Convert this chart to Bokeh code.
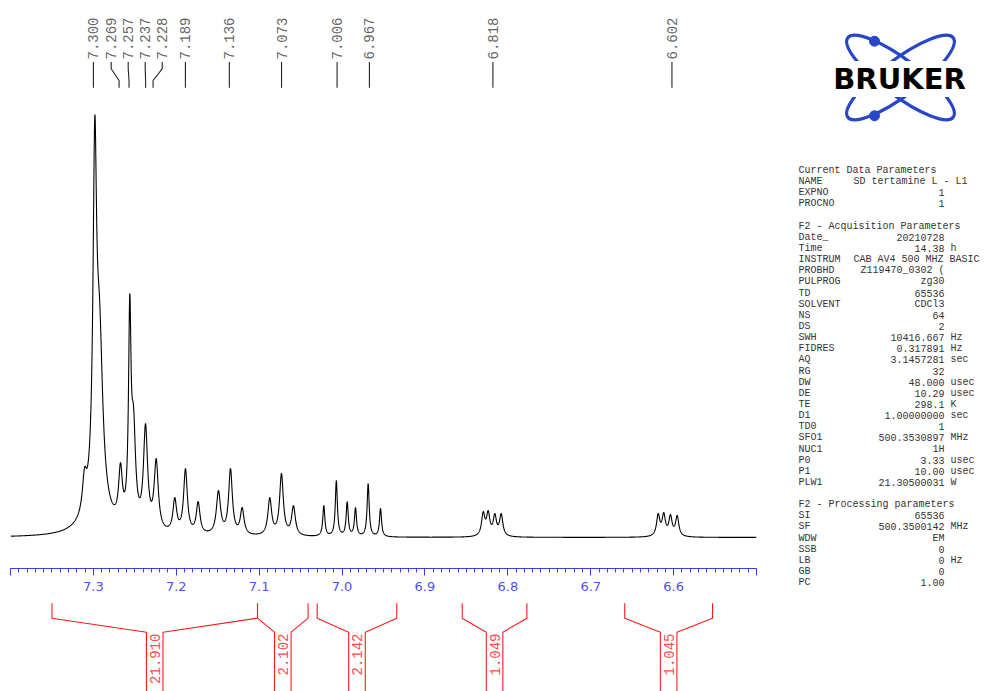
import numpy as np
from bokeh.plotting import figure
from bokeh.models import Range1d, FixedTicker, Label, PrintfTickFormatter
from bokeh.layouts import row, column
from bokeh.embed import file_html
from bokeh.resources import INLINE
from bokeh.core.properties import value

# ---------------- data ----------------
# resolved lines (ppm, apex height above baseline in arbitrary units, half width at half height in ppm)
peak_ppm = [7.3107, 7.2983, 7.2926, 7.2673, 7.2561, 7.2516, 7.2371, 7.2242,
            7.2018, 7.1889, 7.1736, 7.1491, 7.1346, 7.1205, 7.0872, 7.0731,
            7.0586, 7.0220, 7.0069, 6.9938, 6.9838, 6.9685, 6.9536,
            6.8297, 6.8237, 6.8157, 6.8080,
            6.6186, 6.6119, 6.6038, 6.5957]
peak_height = [70, 422, 240, 75, 244, 132, 114, 79,
               40, 69, 36, 47, 69, 30, 40, 64,
               32, 32, 57, 36, 30, 54, 29,
               26, 27, 24, 24,
               24, 25, 23, 22]
peak_hwhm = [0.0030, 0.0026, 0.0048, 0.0027, 0.0018, 0.0030, 0.0030, 0.0030,
             0.0027, 0.0027, 0.0027, 0.0030, 0.0027, 0.0027, 0.0027, 0.0027,
             0.0027, 0.0015, 0.0015, 0.0015, 0.0015, 0.0015, 0.0015,
             0.0024, 0.0024, 0.0024, 0.0024,
             0.0024, 0.0024, 0.0024, 0.0024]
# broad underlying component
broad_ppm = [7.297]
broad_height = [18]
broad_hwhm = [0.018]

# picked peak labels
peak_labels = ["7.300", "7.269", "7.257", "7.237", "7.228", "7.189", "7.136",
               "7.073", "7.006", "6.967", "6.818", "6.602"]

# integrals
int_start = [7.350, 7.102, 7.030, 6.855, 6.659]
int_end = [7.102, 7.041, 6.934, 6.777, 6.553]
int_value = [21.910, 2.102, 2.142, 1.049, 1.045]

# axis
major_ticks = [7.4, 7.3, 7.2, 7.1, 7.0, 6.9, 6.8, 6.7, 6.6, 6.5]
ppm_min, ppm_max = 6.5, 7.4

# parameter block
sec_titles = ["Current Data Parameters", "F2 - Acquisition Parameters", "F2 - Processing parameters"]
sec_names = [["NAME", "EXPNO", "PROCNO"],
             ["Date_", "Time", "INSTRUM", "PROBHD", "PULPROG", "TD", "SOLVENT", "NS", "DS",
              "SWH", "FIDRES", "AQ", "RG", "DW", "DE", "TE", "D1", "TD0", "SFO1", "NUC1",
              "P0", "P1", "PLW1"],
             ["SI", "SF", "WDW", "SSB", "LB", "GB", "PC"]]
sec_values = [["SD tertamine L - L1", "1", "1"],
              ["20210728", "14.38", "CAB AV4 500 MHZ BASIC", "Z119470_0302 (", "zg30", "65536",
               "CDCl3", "64", "2", "10416.667", "0.317891", "3.1457281", "32", "48.000", "10.29",
               "298.1", "1.00000000", "1", "500.3530897", "1H", "3.33", "10.00", "21.30500031"],
              ["65536", "500.3500142", "EM", "0", "0", "0", "1.00"]]
sec_units = [["", "", ""],
             ["", "h", "", "", "", "", "", "", "", "Hz", "Hz", "sec", "", "usec", "usec", "K",
              "sec", "", "MHz", "", "usec", "usec", "W"],
             ["", "MHz", "", "", "Hz", "", ""]]

# ---------------- spectrum ----------------
def lor(x, c, w):
    return w ** 2 / ((x - c) ** 2 + w ** 2)

P = np.array(peak_ppm)
W = np.array(peak_hwhm)
H = np.array(peak_height, dtype=float)
xs = np.linspace(ppm_max, ppm_min, 5000)
base_x = sum(h * lor(xs, c, w) for c, h, w in zip(broad_ppm, broad_height, broad_hwhm))
base_p = sum(h * lor(P, c, w) for c, h, w in zip(broad_ppm, broad_height, broad_hwhm))
A = lor(P[:, None], P[None, :], W[None, :])
amp = np.clip(np.linalg.solve(A, H - base_p), 0, None)
ys = base_x + (amp[None, :] * lor(xs[:, None], P[None, :], W[None, :])).sum(axis=1)

BASE = 537.0  # baseline row on page
def Y(yi):
    return BASE - yi

FONT_MONO = value("Liberation Mono")
BLUE = "#3a3af0"

top = figure(width=785, height=598, x_range=Range1d(ppm_max, ppm_min),
             y_range=Range1d(Y(568), Y(0)), toolbar_location=None, output_backend="svg",
             min_border_left=10, min_border_right=29, min_border_top=0, min_border_bottom=30,
             y_axis_location=None)
top.grid.visible = False
top.outline_line_color = None
top.line(xs, ys, line_color="black", line_width=1.1)

ax = top.xaxis[0]
minor = [round(v, 2) for v in np.arange(ppm_min, ppm_max + 0.0001, 0.01)]
ax.ticker = FixedTicker(ticks=major_ticks, minor_ticks=minor)
ax.formatter = PrintfTickFormatter(format="%.1f")
ax.major_label_overrides = {7.4: "", 6.5: ""}
ax.axis_line_color = BLUE
ax.major_tick_line_color = BLUE
ax.minor_tick_line_color = BLUE
ax.major_tick_in = 0
ax.major_tick_out = 7
ax.minor_tick_in = 0
ax.minor_tick_out = 4
ax.major_label_text_color = "#5050f5"
ax.major_label_text_font = "DejaVu Sans"
ax.major_label_text_font_size = "13px"
ax.major_label_standoff = 6
top.add_layout(Label(x=6.517, y=Y(587), text="ppm", text_color="#5050f5",
                     text_font="DejaVu Sans", text_font_size="13px",
                     text_align="center", text_baseline="middle"))

# peak labels, spread in groups
lab_ppm = [float(s) for s in peak_labels]
sep = 17.0 / (746.0 / (ppm_max - ppm_min))
clusters = [[i] for i in range(len(lab_ppm))]
def place(cl):
    m = np.mean([lab_ppm[i] for i in cl])
    n = len(cl)
    return [m + sep * ((n - 1) / 2 - k) for k in range(n)]
changed = True
while changed:
    changed = False
    for k in range(len(clusters) - 1):
        a = place(clusters[k]); b = place(clusters[k + 1])
        if a[-1] - b[0] < sep - 1e-9:
            clusters[k] = clusters[k] + clusters[k + 1]
            del clusters[k + 1]
            changed = True
            break
lab_pos = []
for cl in clusters:
    lab_pos += place(cl)

lx, ly = [], []
for pk, lp in zip(lab_ppm, lab_pos):
    lx.append([lp, lp, pk, pk])
    ly.append([Y(61.5), Y(68.3), Y(80), Y(87.3)])
top.multi_line(lx, ly, line_color="#222222", line_width=1.1)
top.text(x=lab_pos, y=[Y(59)] * len(lab_pos), text=peak_labels, angle=np.pi / 2,
         text_align="left", text_baseline="middle", text_font=FONT_MONO,
         text_font_size="14px", text_color="#666666")

# ---------------- integrals ----------------
integ = figure(width=785, height=93, x_range=top.x_range, y_range=Range1d(-691, -598),
               toolbar_location=None, output_backend="svg",
               min_border_left=10, min_border_right=29, min_border_top=0, min_border_bottom=0,
               x_axis_location=None, y_axis_location=None)
integ.grid.visible = False
integ.outline_line_color = None
hw = 0.0100
ix, iy, tx = [], [], []
for s, e in zip(int_start, int_end):
    c = (s + e) / 2
    tx.append(c)
    ix.append([s, s, c + hw, c + hw]); iy.append([-602.7, -617.7, -631.7, -700])
    ix.append([e, e, c - hw, c - hw]); iy.append([-602.7, -617.7, -631.7, -700])
integ.multi_line(ix, iy, line_color="#ff1a1a", line_width=1.1)
integ.text(x=tx, y=[-633] * len(tx), text=["%.3f" % v for v in int_value], angle=np.pi / 2,
           text_align="right", text_baseline="middle", text_font=FONT_MONO,
           text_font_size="14px", text_color="#ff4a4a")

# ---------------- right panel: logo + parameters ----------------
rp = figure(width=206, height=691, x_range=Range1d(785, 991), y_range=Range1d(-691, 0),
            toolbar_location=None, output_backend="svg", min_border=0,
            x_axis_location=None, y_axis_location=None)
rp.grid.visible = False
rp.outline_line_color = None

LOGO_BLUE = "#2846c8"
rp.ellipse(x=[900, 900], y=[-77, -77], width=[132, 132], height=[36, 36],
           angle=[np.radians(-37), np.radians(37)], fill_color=None,
           line_color=LOGO_BLUE, line_width=3.2)
rp.scatter(x=[874, 874], y=[-40.7, -115.3], size=10, fill_color=LOGO_BLUE, line_color=LOGO_BLUE)
rp.text(x=[899], y=[-78.5], text=["BRUKER"], text_font=value("DejaVu Sans"),
        text_font_style="bold", text_font_size="29px", text_color="black",
        text_align="center", text_baseline="middle",
        background_fill_color="white", padding=1)

names_x, names_y, names_t = [], [], []
vals_r_x, vals_r_y, vals_r_t = [], [], []
vals_l_x, vals_l_y, vals_l_t = [], [], []
units_y, units_t = [], []
line = 0
for title, nm, vl, un in zip(sec_titles, sec_names, sec_values, sec_units):
    names_x.append(798); names_y.append(-(170 + line * 11.14)); names_t.append(title)
    line += 1
    for n, v, u in zip(nm, vl, un):
        yy = -(170 + line * 11.14)
        names_x.append(798); names_y.append(yy); names_t.append(n)
        if len(v) > 14:
            vals_l_x.append(853); vals_l_y.append(yy); vals_l_t.append(v)
        else:
            vals_r_x.append(944); vals_r_y.append(yy); vals_r_t.append(v)
        if u:
            units_y.append(yy); units_t.append(u)
        line += 1
    line += 1

common = dict(text_font=FONT_MONO, text_font_size="10px", text_color="#333333",
              text_baseline="middle")
rp.text(x=names_x, y=names_y, text=names_t, text_align="left", **common)
rp.text(x=vals_r_x, y=vals_r_y, text=vals_r_t, text_align="right", **common)
rp.text(x=vals_l_x, y=vals_l_y, text=vals_l_t, text_align="left", **common)
rp.text(x=[950] * len(units_t), y=units_y, text=units_t, text_align="left", **common)

layout = row(column(top, integ, spacing=0), rp, spacing=0)
open("out.html", "w").write(file_html(layout, INLINE))
